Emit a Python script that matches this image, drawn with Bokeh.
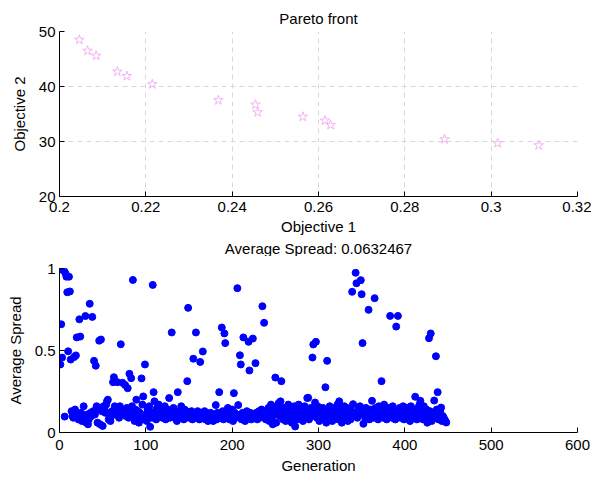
from bokeh.plotting import figure
from bokeh.layouts import column
from bokeh.models import FixedTicker, Title
from bokeh.embed import file_html
from bokeh.resources import INLINE

# ---------------- data ----------------
obj1 = [0.2046, 0.2065, 0.2085, 0.2134, 0.2156, 0.2215, 0.2368, 0.2454, 0.2459,
        0.2564, 0.2615, 0.2628, 0.2892, 0.3015, 0.3110]
obj2 = [48.5, 46.5, 45.6, 42.7, 41.9, 40.4, 37.5, 36.7, 35.3,
        34.5, 33.8, 33.0, 30.4, 29.7, 29.3]

spread = [
    0.415, 0.66, 0.457, 0.99, 0.99, 0.097, 0.97, 0.95, 0.855, 0.495,
    0.95, 0.86, 0.445, 0.13, 0.10, 0.09, 0.46, 0.14, 0.47, 0.58,
    0.11, 0.08, 0.69, 0.585, 0.12, 0.07, 0.10, 0.16, 0.09, 0.71,
    0.06, 0.11, 0.05, 0.08, 0.785, 0.12, 0.10, 0.705, 0.13, 0.437,
    0.11, 0.407, 0.16, 0.06, 0.14, 0.56, 0.05, 0.567, 0.13, 0.04,
    0.16, 0.15, 0.12, 0.17, 0.19, 0.20, 0.08, 0.12, 0.07, 0.10,
    0.13, 0.307, 0.337, 0.16, 0.11, 0.15, 0.307, 0.12, 0.09, 0.16,
    0.538, 0.14, 0.303, 0.11, 0.13, 0.29, 0.10, 0.15, 0.27, 0.09,
    0.358, 0.12, 0.331, 0.16, 0.93, 0.11, 0.07, 0.14, 0.20, 0.08,
    0.13, 0.06, 0.12, 0.09, 0.33, 0.17, 0.22, 0.08, 0.415, 0.11,
    0.07, 0.14, 0.10, 0.16, 0.035, 0.12, 0.09, 0.90, 0.246, 0.19,
    0.13, 0.08, 0.15, 0.11, 0.17, 0.12, 0.10, 0.14, 0.09, 0.13,
    0.11, 0.16, 0.08, 0.12, 0.14, 0.10, 0.21, 0.09, 0.13, 0.61,
    0.11, 0.15, 0.09, 0.12, 0.10, 0.07, 0.246, 0.13, 0.11, 0.09,
    0.16, 0.10, 0.12, 0.08, 0.14, 0.11, 0.13, 0.313, 0.76, 0.09,
    0.12, 0.10, 0.13, 0.08, 0.45, 0.11, 0.12, 0.61, 0.09, 0.13,
    0.10, 0.08, 0.43, 0.12, 0.11, 0.494, 0.09, 0.13, 0.08, 0.12,
    0.10, 0.07, 0.11, 0.09, 0.12, 0.08, 0.10, 0.07, 0.11, 0.09,
    0.167, 0.08, 0.12, 0.10, 0.246, 0.09, 0.11, 0.64, 0.13, 0.08,
    0.604, 0.545, 0.12, 0.09, 0.15, 0.11, 0.08, 0.13, 0.10, 0.14,
    0.07, 0.24, 0.12, 0.09, 0.11, 0.88, 0.167, 0.10, 0.471, 0.415,
    0.08, 0.12, 0.58, 0.10, 0.07, 0.11, 0.13, 0.09, 0.553, 0.378,
    0.12, 0.08, 0.10, 0.573, 0.11, 0.09, 0.423, 0.12, 0.08, 0.10,
    0.13, 0.09, 0.11, 0.14, 0.77, 0.10, 0.669, 0.12, 0.08, 0.13,
    0.10, 0.15, 0.07, 0.12, 0.17, 0.09, 0.05, 0.14, 0.11, 0.335,
    0.06, 0.16, 0.12, 0.18, 0.10, 0.19, 0.313, 0.13, 0.08, 0.15,
    0.11, 0.07, 0.14, 0.10, 0.17, 0.12, 0.09, 0.15, 0.06, 0.13,
    0.11, 0.16, 0.037, 0.10, 0.14, 0.08, 0.17, 0.12, 0.09, 0.15,
    0.13, 0.07, 0.11, 0.16, 0.10, 0.14, 0.21, 0.212, 0.08, 0.12,
    0.15, 0.10, 0.457, 0.537, 0.13, 0.183, 0.553, 0.09, 0.16, 0.11,
    0.07, 0.14, 0.12, 0.09, 0.15, 0.10, 0.13, 0.276, 0.06, 0.437,
    0.12, 0.08, 0.16, 0.11, 0.14, 0.07, 0.13, 0.10, 0.15, 0.09,
    0.12, 0.17, 0.08, 0.19, 0.11, 0.14, 0.06, 0.13, 0.10, 0.16,
    0.09, 0.12, 0.15, 0.07, 0.11, 0.14, 0.08, 0.13, 0.858, 0.173,
    0.10, 0.12, 0.974, 0.91, 0.09, 0.14, 0.11, 0.16, 0.929, 0.843,
    0.545, 0.053, 0.12, 0.09, 0.15, 0.11, 0.13, 0.748, 0.08, 0.14,
    0.10, 0.193, 0.12, 0.09, 0.819, 0.15, 0.11, 0.13, 0.08, 0.16,
    0.10, 0.14, 0.313, 0.12, 0.09, 0.17, 0.11, 0.14, 0.08, 0.13,
    0.10, 0.15, 0.711, 0.12, 0.09, 0.16, 0.11, 0.14, 0.08, 0.646,
    0.12, 0.711, 0.10, 0.15, 0.09, 0.13, 0.11, 0.16, 0.08, 0.14,
    0.12, 0.09, 0.15, 0.11, 0.13, 0.07, 0.16, 0.10, 0.14, 0.12,
    0.09, 0.218, 0.13, 0.08, 0.15, 0.11, 0.17, 0.193, 0.10, 0.13,
    0.08, 0.16, 0.12, 0.09, 0.14, 0.06, 0.11, 0.575, 0.13, 0.604,
    0.07, 0.12, 0.10, 0.195, 0.09, 0.465, 0.14, 0.246, 0.08, 0.11,
    0.13, 0.152, 0.07, 0.10, 0.09, 0.08, 0.07, 0.061,
]
generation = list(range(1, len(spread) + 1))

x1_ticks = [0.2, 0.22, 0.24, 0.26, 0.28, 0.3, 0.32]
x1_labels = ["0.2", "0.22", "0.24", "0.26", "0.28", "0.3", "0.32"]
y1_ticks = [20, 30, 40, 50]
x2_ticks = [0, 100, 200, 300, 400, 500, 600]
y2_ticks = [0, 0.5, 1]
y2_labels = ["0", "0.5", "1"]

FONT = "Liberation Sans"
FS = "15px"


def style_title(t):
    t.align = "center"
    t.text_font = FONT
    t.text_font_size = FS
    t.text_font_style = "normal"
    t.text_color = "black"


def style(p, xt, yt):
    p.outline_line_color = None
    style_title(p.title)
    for ax in (p.xaxis[0], p.yaxis[0]):
        ax.axis_line_color = "black"
        ax.axis_line_width = 1
        ax.major_tick_in = 5
        ax.major_tick_out = 0
        ax.minor_tick_line_color = None
        ax.major_tick_line_color = "black"
        ax.major_label_text_font = FONT
        ax.major_label_text_font_size = FS
        ax.major_label_text_color = "black"
        ax.axis_label_text_font = FONT
        ax.axis_label_text_font_size = FS
        ax.axis_label_text_font_style = "normal"
        ax.axis_label_text_color = "black"
    p.xaxis.ticker = FixedTicker(ticks=xt)
    p.yaxis.ticker = FixedTicker(ticks=yt)
    p.yaxis.major_label_standoff = 4
    p.yaxis.axis_label_standoff = 8


# ---------------- top: Pareto front ----------------
p1 = figure(frame_width=518, frame_height=165, x_range=(0.2, 0.32), y_range=(20, 50),
            output_backend="svg", toolbar_location=None,
            title="Pareto front",
            min_border_left=59, min_border_right=14,
            min_border_top=31, min_border_bottom=40)
style(p1, x1_ticks, y1_ticks)
p1.title.standoff = 9
p1.xaxis.major_label_standoff = 5
p1.xaxis.axis_label_standoff = 3
p1.xaxis.axis_label = "Objective 1"
p1.yaxis.axis_label = "Objective 2"
p1.xaxis.major_label_overrides = {t: l for t, l in zip(x1_ticks, x1_labels)}
p1.xgrid.ticker = FixedTicker(ticks=x1_ticks)
p1.ygrid.ticker = FixedTicker(ticks=y1_ticks)
for g in (p1.xgrid[0], p1.ygrid[0]):
    g.grid_line_color = "#d8d8d8"
    g.grid_line_dash = "5 4"
    g.grid_line_width = 1
p1.scatter(obj1, obj2, marker="star", size=10, fill_alpha=0,
           line_color="#f2b3f2", line_width=1)

# title of the lower panel, placed directly under "Objective 1"
t2 = Title(text="Average Spread: 0.0632467", standoff=0)
style_title(t2)
p1.add_layout(t2, "below")

# ---------------- bottom: Average spread ----------------
p2 = figure(frame_width=518, frame_height=164, x_range=(0, 600), y_range=(0, 1),
            output_backend="svg", toolbar_location=None,
            min_border_left=59, min_border_right=14,
            min_border_top=12, min_border_bottom=44)
style(p2, x2_ticks, y2_ticks)
p2.xaxis.major_label_standoff = 7
p2.xaxis.axis_label_standoff = 4
p2.xaxis.axis_label = "Generation"
p2.yaxis.axis_label = "Average Spread"
p2.yaxis.major_label_overrides = {t: l for t, l in zip(y2_ticks, y2_labels)}
p2.xgrid.grid_line_color = None
p2.ygrid.grid_line_color = None
p2.scatter(generation, spread, marker="circle", size=7,
           fill_color="#0000ff", line_color="#0000ff")

layout = column(p1, p2, spacing=0)
open("out.html", "w").write(file_html(layout, INLINE))
